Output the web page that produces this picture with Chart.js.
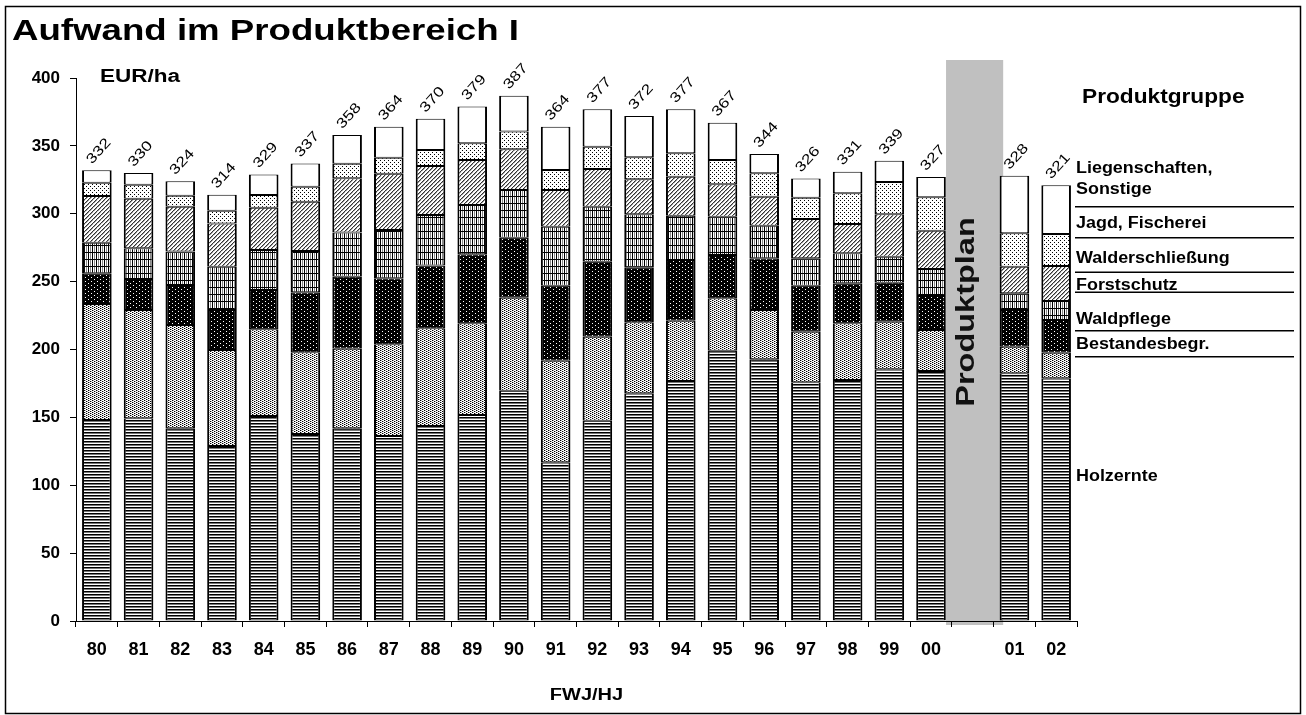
<!DOCTYPE html>
<html><head><meta charset="utf-8">
<script src="https://cdn.jsdelivr.net/npm/chart.js@4/dist/chart.umd.min.js"></script>
<style>html,body{margin:0;padding:0;background:#fff}#wrap{position:relative;width:1306px;height:715px}</style>
</head><body><div id="wrap"><canvas id="c" width="1306" height="715"></canvas></div>
<script>
const categories = ['80','81','82','83','84','85','86','87','88','89','90','91','92','93','94','95','96','97','98','99','00','','01','02'];
const holzernte = [148.1,149.3,141.9,128.9,151.0,137.8,141.9,136.3,143.6,151.7,169.7,116.9,147.6,167.7,176.8,199.1,192.8,175.8,177.5,185.4,184.2,null,182.5,178.8];
const bestandesbegr = [85.4,79.8,76.1,70.7,63.9,60.1,58.7,67.5,72.0,67.6,68.5,74.9,61.8,52.3,44.4,38.6,36.3,37.3,41.8,35.1,30.2,null,19.6,18.8];
const waldpflege = [22.6,22.8,29.5,29.5,28.9,44.2,53.0,48.6,46.2,50.8,44.2,55.2,55.3,40.6,44.7,31.9,38.1,33.9,29.5,28.7,25.0,null,27.0,24.1];
const forstschutz = [22.6,22.6,24.6,31.9,29.5,30.5,32.5,35.6,37.3,36.3,35.1,43.5,40.5,39.0,32.7,28.2,24.0,20.2,22.1,19.2,19.9,null,12.3,14.0];
const walderschliessung = [34.4,36.6,33.1,31.9,31.2,36.3,40.0,41.5,36.1,33.2,30.0,27.0,27.8,25.8,28.7,23.9,21.4,28.9,21.5,31.2,28.2,null,19.6,25.8];
const jagdFischerei = [9.8,10.3,8.1,9.4,9.3,11.0,10.8,11.8,11.8,12.3,13.0,14.7,16.4,16.2,17.2,17.9,17.2,15.7,22.7,23.8,24.6,null,24.6,23.6];
const liegenschaften = [9.1,8.6,10.7,11.7,15.2,17.1,21.1,22.7,23.0,27.1,26.5,31.8,27.6,30.4,32.5,27.4,14.2,14.2,15.9,15.6,14.9,null,42.4,35.9];
const totals = [332,330,324,314,329,337,358,364,370,379,387,364,377,372,377,367,344,326,331,339,327,null,328,321];
const yTicks = [0,50,100,150,200,250,300,350,400];
const seriesNames = ['Holzernte','Bestandesbegr.','Waldpflege','Forstschutz','Walderschließung','Jagd, Fischerei','Liegenschaften, Sonstige'];
const planIndex = 21;

const FONT = '"Liberation Sans", Arial, sans-serif';

function pat(w,h,bg,pixels){
  const c=document.createElement('canvas'); c.width=w; c.height=h;
  const x=c.getContext('2d'); x.fillStyle=bg; x.fillRect(0,0,w,h);
  pixels(x);
  return x.createPattern(c,'repeat');
}
const P = {
  holz: pat(4,3,'#fff',x=>{x.fillStyle='#000';x.fillRect(0,0,4,1);x.fillStyle='#777';x.fillRect(0,1,4,1);}),
  best: pat(4,4,'#fff',x=>{x.fillStyle='#000';[[0,0],[2,1],[0,2],[2,3]].forEach(p=>x.fillRect(p[0],p[1],1,1));x.fillStyle='#aaa';[[1,0],[3,1],[1,2],[3,3]].forEach(p=>x.fillRect(p[0],p[1],1,1));}),
  wald: pat(6,4,'#000',x=>{x.fillStyle='#fff';x.fillRect(1,1,1,1);x.fillRect(4,3,1,1);}),
  forst: pat(4,7,'#fff',x=>{x.fillStyle='#000';x.fillRect(0,0,1,7);x.fillStyle='#888';x.fillRect(2,0,1,7);x.fillStyle='#000';x.fillRect(0,0,4,1);}),
  weg: pat(4,4,'#fff',x=>{for(let i=0;i<4;i++){x.fillStyle='#333';x.fillRect((3-i+4)%4,i,1,1);x.fillStyle='#999';x.fillRect((4-i+4)%4,i,1,1);} x.fillStyle='#ccc';x.fillRect(1,3,1,1);}),
  jagd: pat(4,4,'#fff',x=>{x.fillStyle='#000';x.fillRect(0,0,1,1);x.fillRect(2,2,1,1);}),
  lieg: '#ffffff'
};

const seriesData = [holzernte,bestandesbegr,waldpflege,forstschutz,walderschliessung,jagdFischerei,liegenschaften];
const fills = [P.holz,P.best,P.wald,P.forst,P.weg,P.jagd,P.lieg];

const datasets = seriesData.map((d,i)=>({
  label: seriesNames[i], data: d, backgroundColor: fills[i],
  borderColor:'#000', borderWidth:{top:1,bottom:1,left:2,right:2}, borderSkipped:false,
  barPercentage:0.71, categoryPercentage:1
}));

function stretchText(ctx,text,x,y,size,k,align){
  ctx.save();
  ctx.font='bold '+size+'px '+FONT;
  ctx.textAlign='left';
  const w=ctx.measureText(text).width*k;
  let sx=x; if(align==='center') sx=x-w/2; else if(align==='right') sx=x-w;
  ctx.translate(sx,y); ctx.scale(k,1); ctx.fillText(text,0,0);
  ctx.restore();
}

const deco = {
  id:'deco',
  beforeDraw(chart){
    const ctx=chart.ctx;
    ctx.save();
    ctx.fillStyle='#fff'; ctx.fillRect(0,0,chart.width,chart.height);
    const xs=chart.scales.x, ys=chart.scales.y;
    const cw=(xs.right-xs.left)/categories.length;
    const cx=xs.getPixelForValue(planIndex);
    ctx.fillStyle='#c0c0c0';
    ctx.fillRect(cx-0.64*cw, ys.top-18, 1.37*cw, ys.bottom+4-(ys.top-18));
    ctx.restore();
  },
  afterDatasetsDraw(chart){
    const ctx=chart.ctx;
    const top=chart.getDatasetMeta(seriesData.length-1);
    ctx.save();
    ctx.fillStyle='#000';
    ctx.font='14px '+FONT;
    ctx.textAlign='center'; ctx.textBaseline='middle';
    totals.forEach((t,i)=>{
      if(t==null) return;
      const el=top.data[i];
      ctx.save();
      ctx.translate(el.x+2, el.y-19);
      ctx.rotate(-48*Math.PI/180);
      ctx.scale(1.25,1);
      ctx.fillText(String(t),0,0);
      ctx.restore();
    });
    ctx.restore();
  },
  afterDraw(chart){
    const ctx=chart.ctx;
    const xs=chart.scales.x, ys=chart.scales.y;
    ctx.save();
    ctx.strokeStyle='#000'; ctx.lineWidth=1.5;
    ctx.strokeRect(5.5,6.5,1295,707);
    ctx.fillStyle='#000'; ctx.textBaseline='alphabetic';
    ctx.font='bold 29px '+FONT;
    const tw=ctx.measureText('Aufwand im Produktbereich I').width;
    stretchText(ctx,'Aufwand im Produktbereich I',12,40,29,507/tw,'left');
    stretchText(ctx,'EUR/ha',100,82,18,1.25,'left');
    stretchText(ctx,'FWJ/HJ',(xs.left+xs.right)/2+10,700,16,1.25,'center');
    // Produktplan
    const cx=xs.getPixelForValue(planIndex);
    ctx.save();
    ctx.translate(cx+1,312);
    ctx.rotate(-Math.PI/2);
    ctx.font='bold 25px '+FONT;
    ctx.fillStyle='#111';
    ctx.textAlign='center';
    ctx.scale(1.3,1);
    ctx.fillText('Produktplan',0,0);
    ctx.restore();
    // legend
    stretchText(ctx,'Produktgruppe',1082,103,21,1.08,'left');
    const L=[['Liegenschaften,',173],['Sonstige',194],['Jagd, Fischerei',228],['Walderschließung',263],['Forstschutz',290],['Waldpflege',324],['Bestandesbegr.',349],['Holzernte',481]];
    L.forEach(l=>stretchText(ctx,l[0],1076,l[1],16,1.12,'left'));
    ctx.lineWidth=1.5;
    [206.7,237.7,272.3,292.3,330.7,356.7].forEach(y=>{ctx.beginPath();ctx.moveTo(1075,y);ctx.lineTo(1294,y);ctx.stroke();});
    ctx.restore();
  }
};

new Chart(document.getElementById('c'),{
  type:'bar',
  data:{labels:categories,datasets},
  options:{
    responsive:false, animation:false, devicePixelRatio:1,
    layout:{padding:{left:0,top:78,right:229,bottom:0}},
    plugins:{legend:{display:false},tooltip:{enabled:false},title:{display:false}},
    scales:{
      x:{stacked:true,
        grid:{display:true,drawOnChartArea:false,offset:true,color:'#000',tickLength:6,lineWidth:1},
        border:{color:'#000',width:1},
        ticks:{color:'#000',font:{family:FONT,size:18,weight:'bold'},padding:12,maxRotation:0,autoSkip:false},
        afterFit(s){s.height=94;}
      },
      y:{stacked:true,min:0,max:400,
        afterBuildTicks(s){s.ticks=yTicks.map(v=>({value:v}));},
        ticks:{color:'#000',font:{family:FONT,size:17,weight:'bold'},padding:10},
        grid:{display:true,drawOnChartArea:false,color:'#000',tickLength:6},
        border:{color:'#000',width:1},
        afterFit(s){s.width=76;}
      }
    }
  },
  plugins:[deco]
});
</script></body></html>
